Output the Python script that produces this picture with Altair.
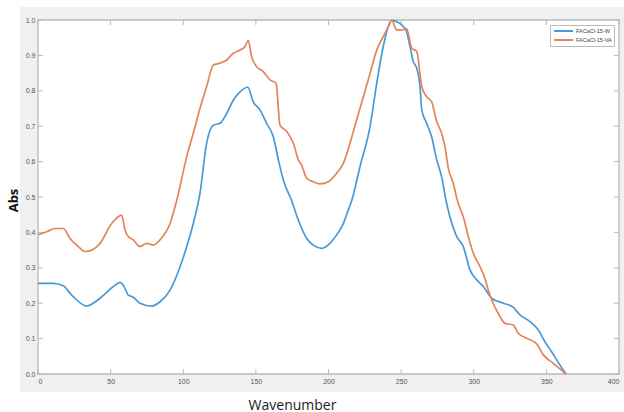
import altair as alt
import pandas as pd

# ---- data ----
w_x = [0, 10.5, 17.4, 23.2, 33.5, 42.7, 51.9, 56.5, 58.8, 62.2, 65.6, 70.2, 78.3, 84, 90.9, 97.8,
       102.4, 106.9, 111.5, 116.1, 120.7, 125.3, 129.9, 134.5, 139.1, 144.4, 148.2, 152.8, 157.4,
       162, 165.5, 168.9, 174.6, 179.2, 185, 189.5, 195.3, 201, 205.6, 210.2, 213.6, 216, 221.7,
       228.6, 233.2, 237.7, 243.5, 247, 250.4, 253.8, 256.1, 258.4, 260.7, 263, 264.2, 267.6, 271,
       274.5, 277.9, 280.9, 283.6, 288.3, 292.8, 297.4, 302, 306.6, 312.4, 320.4, 327.3, 331.8,
       338.7, 344.5, 349, 353.6, 359.4, 363.5]
w_y = [0.256, 0.256, 0.249, 0.223, 0.192, 0.214, 0.247, 0.259, 0.25, 0.223, 0.217, 0.2, 0.192,
       0.204, 0.237, 0.303, 0.36, 0.425, 0.51, 0.652, 0.703, 0.708, 0.736, 0.774, 0.797, 0.81,
       0.769, 0.746, 0.708, 0.67, 0.605, 0.548, 0.49, 0.435, 0.383, 0.364, 0.355, 0.369, 0.393,
       0.425, 0.463, 0.49, 0.586, 0.699, 0.821, 0.925, 0.998, 0.995, 0.986, 0.967, 0.925, 0.882,
       0.864, 0.812, 0.746, 0.708, 0.67, 0.605, 0.557, 0.49, 0.444, 0.388, 0.36, 0.294, 0.266,
       0.247, 0.214, 0.2, 0.188, 0.167, 0.148, 0.124, 0.091, 0.063, 0.025, 0.0]

va_x = [0, 6, 11.7, 17.4, 22, 27.8, 32.4, 37, 42.7, 50.7, 57.6, 59.9, 62.2, 65.6, 70.2, 74.8,
        79.4, 84, 90.9, 95.5, 102.4, 106.9, 111.5, 116.1, 120.7, 125.3, 129.9, 134.5, 139.1,
        142.5, 144.8, 147.1, 150.6, 155.1, 159.7, 163.9, 166.6, 171.2, 175.8, 179.2, 181.5, 185,
        189.5, 194.1, 199.9, 205.6, 210.2, 214.8, 219.4, 224, 228.6, 233.2, 237.7, 241.2, 243.5,
        247, 250.4, 253.8, 257.3, 260.7, 264.2, 267.6, 271, 274.5, 277.9, 280.2, 282.5, 285.9,
        288.7, 292.8, 296.3, 299.7, 304.3, 307.7, 310, 312.4, 316.9, 321.5, 327.3, 330.7, 336.5,
        343.3, 347.9, 354.8, 363.5]
va_y = [0.393, 0.402, 0.411, 0.411, 0.383, 0.36, 0.346, 0.35, 0.369, 0.425, 0.449, 0.407, 0.388,
        0.379, 0.36, 0.369, 0.364, 0.379, 0.425, 0.49, 0.614, 0.68, 0.75, 0.812, 0.873, 0.878,
        0.887, 0.906, 0.915, 0.925, 0.942, 0.896, 0.868, 0.854, 0.831, 0.821, 0.703, 0.685, 0.652,
        0.605, 0.59, 0.553, 0.543, 0.537, 0.543, 0.567, 0.595, 0.652, 0.718, 0.783, 0.849, 0.915,
        0.953, 0.981, 1.0, 0.972, 0.972, 0.976, 0.92, 0.911, 0.812, 0.783, 0.769, 0.713, 0.68,
        0.642, 0.581, 0.539, 0.49, 0.444, 0.388, 0.341, 0.303, 0.27, 0.237, 0.209, 0.171, 0.143,
        0.138, 0.115, 0.101, 0.085, 0.054, 0.03, 0.0]

series_names = ["FACaCl-15-W", "FACaCl-15-VA"]
series_colors = ["#4a98d4", "#e3845a"]
x_ticks = [0, 50, 100, 150, 200, 250, 300, 350, 400]
y_ticks = [0, 0.1, 0.2, 0.3, 0.4, 0.5, 0.6, 0.7, 0.8, 0.9, 1]

assert len(w_x) == len(w_y) and len(va_x) == len(va_y)

df = pd.concat([
    pd.DataFrame({"x": w_x, "y": w_y, "s": series_names[0], "o": range(len(w_x))}),
    pd.DataFrame({"x": va_x, "y": va_y, "s": series_names[1], "o": range(len(va_x))}),
])

W, H = 581, 354
xs = alt.Scale(domain=[0, 400], nice=False)
ys = alt.Scale(domain=[0, 1], nice=False)
one = alt.Data(values=[{"a": 1}])

x_axis = alt.Axis(values=x_ticks, grid=False, ticks=False, domain=False,
                  labelFont="Liberation Sans", labelFontSize=7, labelColor="#555555",
                  labelPadding=3, zindex=1,
                  titleFont="Open Sans", titleFontSize=14, titleFontWeight="normal",
                  titleColor="#222222", titleX=254, titleY=31, titleBaseline="middle")
y_axis = alt.Axis(values=y_ticks, grid=False, ticks=False, domain=False,
                  labelFont="Liberation Sans", labelFontSize=7, labelColor="#555555",
                  labelPadding=3, zindex=1,
                  titleFont="Open Sans", titleFontSize=13, titleFontWeight="bold",
                  titleColor="#111111", titleX=-25, titleY=180, titleBaseline="middle")

bg = alt.Chart(one).mark_rect(color="#f0f0f0").encode(
    x=alt.value(-18), x2=alt.value(586), y=alt.value(-13), y2=alt.value(372))
plot_bg = alt.Chart(one).mark_rect(fill="white", stroke="#b8b8b8", strokeWidth=1.3).encode(
    x=alt.value(0), x2=alt.value(W), y=alt.value(0), y2=alt.value(H))

xt = pd.DataFrame({"t": x_ticks})
yt = pd.DataFrame({"t": y_ticks})
tick_style = dict(color="#b8b8b8", strokeWidth=1)
xb = alt.Chart(xt).mark_rule(**tick_style).encode(
    x=alt.X("t:Q", scale=xs, axis=x_axis, title="Wavenumber"), y=alt.value(H), y2=alt.value(H - 5))
xtp = alt.Chart(xt).mark_rule(**tick_style).encode(
    x=alt.X("t:Q", scale=xs, axis=x_axis, title="Wavenumber"), y=alt.value(0), y2=alt.value(5))
yl = alt.Chart(yt).mark_rule(**tick_style).encode(
    y=alt.Y("t:Q", scale=ys, axis=y_axis, title="Abs"), x=alt.value(0), x2=alt.value(5))
yr = alt.Chart(yt).mark_rule(**tick_style).encode(
    y=alt.Y("t:Q", scale=ys, axis=y_axis, title="Abs"), x=alt.value(W), x2=alt.value(W - 5))

lines = alt.Chart(df).mark_line(strokeWidth=1.7, interpolate="monotone").encode(
    x=alt.X("x:Q", scale=xs, title="Wavenumber", axis=x_axis),
    y=alt.Y("y:Q", scale=ys, title="Abs", axis=y_axis),
    color=alt.Color("s:N", scale=alt.Scale(domain=series_names, range=series_colors),
                    legend=alt.Legend(orient="none", legendX=512, legendY=5, title=None,
                                      symbolType="M-2.7,0H2.7", symbolStrokeWidth=2,
                                      symbolSize=49, symbolOffset=7.5,
                                      labelFont="Liberation Sans", labelFontSize=5.5,
                                      labelColor="#444444", labelOffset=8, padding=1.5,
                                      rowPadding=0, strokeColor="#bbbbbb", fillColor="white")),
    order="o:Q",
)

chart = alt.layer(bg, plot_bg, xb, xtp, yl, yr, lines).properties(
    width=W, height=H, autosize="none",
    padding={"left": 38, "top": 20, "right": 5, "bottom": 38},
    background="white",
).configure_view(stroke=None)

chart.save("out.html", embed_options={"renderer": "svg", "actions": False})
